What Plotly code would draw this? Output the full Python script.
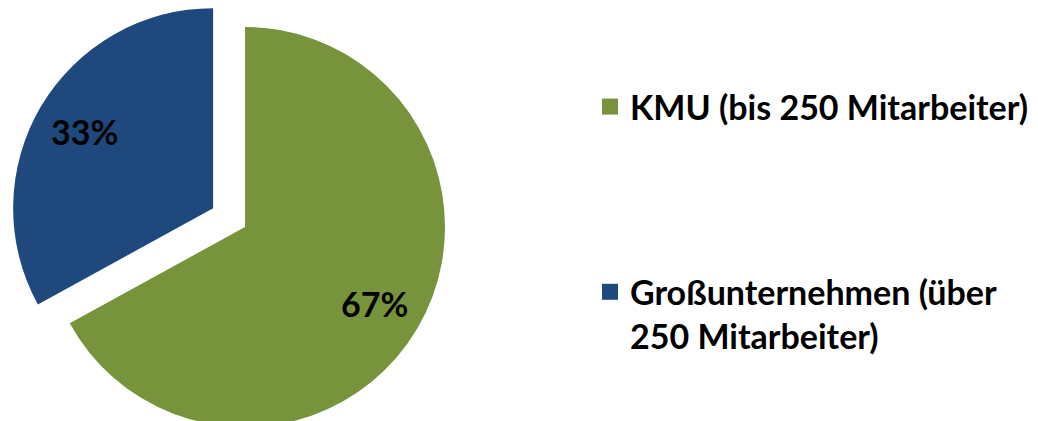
import math
import plotly.graph_objects as go

# ---- data ----
labels = ["KMU (bis 250 Mitarbeiter)", "Großunternehmen (über 250 Mitarbeiter)"]
legend_names = ["KMU (bis 250 Mitarbeiter)", "Großunternehmen (über<br>250 Mitarbeiter)"]
values = [67, 33]
colors = ["#77933C", "#1F497D"]
pulls = [0.0, 0.185]

# ---- layout geometry (screen pixels; page body has an 8px default margin) ----
OFF = 8
W, H = 1030, 430          # figure size (overflow beyond window is clipped)
R = 200
CX, CY = 245 - OFF, 227 - OFF
LABEL_R = 0.75
FONT = "Lato"

def domain_for(cx, cy, r):
    return dict(x=[(cx - r) / W, (cx + r) / W],
                y=[(H - (cy + r)) / H, (H - (cy - r)) / H])

total = sum(values)
fig = go.Figure()
annotations = []
start = 0.0
for i, (lab, v, c, p) in enumerate(zip(labels, values, colors, pulls)):
    frac = v / total
    mid = (start + frac / 2) * 2 * math.pi  # clockwise from 12 o'clock
    ux, uy = math.sin(mid), -math.cos(mid)   # screen direction (y down)
    cx, cy = CX + p * R * ux, CY + p * R * uy
    slice_colors = ["rgba(0,0,0,0)"] * len(values)
    slice_colors[i] = c
    fig.add_trace(go.Pie(
        labels=labels, values=values, sort=False, direction="clockwise", rotation=0,
        marker=dict(colors=slice_colors, line=dict(width=0)),
        textinfo="none", hoverinfo="label+percent",
        domain=domain_for(cx, cy, R), showlegend=False,
    ))
    lx, ly = cx + LABEL_R * R * ux, cy + LABEL_R * R * uy
    annotations.append(dict(
        x=lx / W, y=1 - ly / H, xref="paper", yref="paper", showarrow=False,
        text=f"{round(frac * 100)}%", xanchor="center", yanchor="middle",
        font=dict(family=FONT, size=34, color="black", weight="bold"),
    ))
    start += frac

for name, c in zip(legend_names, colors):
    fig.add_trace(go.Scatter(
        x=[None], y=[None], mode="markers", name=name, legendgroup=name,
        marker=dict(symbol="square", size=16, color=c), hoverinfo="skip",
    ))

fig.update_layout(
    width=W, height=H, margin=dict(l=0, r=0, t=0, b=0),
    paper_bgcolor="white", plot_bgcolor="white",
    xaxis=dict(visible=False), yaxis=dict(visible=False),
    annotations=annotations,
    legend=dict(x=582 / W, y=1 - 70 / H, xanchor="left", yanchor="top",
                font=dict(family=FONT, size=34, color="black", weight="bold"),
                tracegroupgap=138, valign="top", bgcolor="rgba(0,0,0,0)"),
)

fig.write_html("out.html")
